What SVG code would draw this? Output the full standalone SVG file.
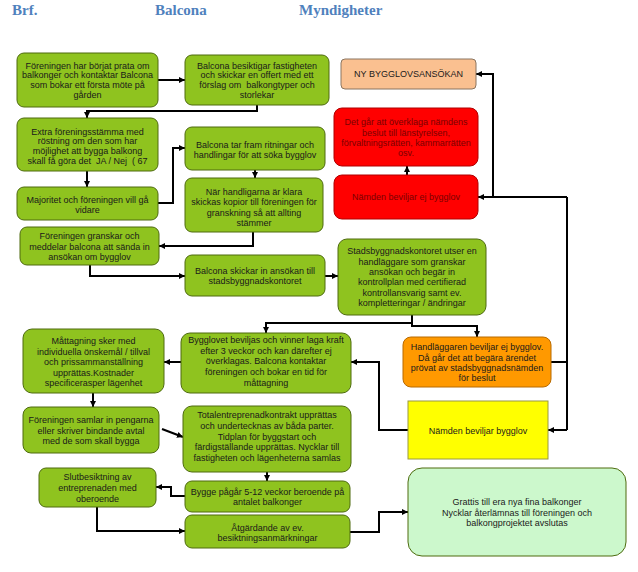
<svg xmlns="http://www.w3.org/2000/svg" width="638" height="572" viewBox="0 0 638 572">
<style>
.hd{font-family:"Liberation Serif",serif;font-weight:bold;font-size:15px;fill:#4F81BD}
.t{font-family:"Liberation Sans",Arial,sans-serif;font-size:9px;fill:#1a1a1a;text-anchor:middle;white-space:pre}
.tr{fill:#7a0000}
.g{fill:#8fc31f;stroke:#4e6b0f;stroke-width:1}
.red{fill:#ff0000;stroke:#b00000;stroke-width:1}
.org{fill:#ff9900;stroke:#b86a00;stroke-width:1}
.pch{fill:#fac090;stroke:#8a7560;stroke-width:1}
.yel{fill:#ffff00;stroke:#9a9a40;stroke-width:1}
.lg{fill:#ccf8cc;stroke:#4e6b0f;stroke-width:1}
.c{fill:none;stroke:#000;stroke-width:2}
.a{marker-end:url(#ah)}
</style>
<defs>
<marker id="ah" viewBox="0 0 10 10" refX="10" refY="5" markerWidth="3" markerHeight="3" orient="auto">
<path d="M0,0 L10,5 L0,10 z" fill="#000"/>
</marker>
</defs>
<rect width="638" height="572" fill="#fff"/>
<text class="hd" x="12" y="15">Brf.</text>
<text class="hd" x="155" y="15">Balcona</text>
<text class="hd" x="299" y="15">Myndigheter</text>

<g id="connectors">
<path class="c a" d="M158,80 H185"/>
<path class="c a" d="M257,105 V111 H87 V118"/>
<path class="c a" d="M87,171 V187"/>
<path class="c a" d="M158,203 H173 V148 H185"/>
<path class="c a" d="M255,170 V178"/>
<path class="c a" d="M253,232 V246 H159"/>
<path class="c a" d="M90,265 V276 H185"/>
<path class="c a" d="M325,276 H338"/>
<path class="c a" d="M412,323 H266 V333"/>
<path class="c a" d="M412,315 V326 H477 V337"/>
<path class="c" d="M551,362 H567"/>
<path class="c" d="M567,197 V430"/>
<path class="c a" d="M567,197 H478"/>
<path class="c a" d="M567,430 H548"/>
<path class="c a" d="M493,197 V74 H476"/>
<path class="c a" d="M407,175 V166"/>
<path class="c a" d="M408,430 H379 V362 H351"/>
<path class="c a" d="M181,362 H164"/>
<path class="c a" d="M93,393 V407"/>
<path class="c a" d="M162,429 L183,437"/>
<path class="c a" d="M267,472 V481"/>
<path class="c a" d="M185,496 H171 V487 H156"/>
<path class="c a" d="M97,507 V531 H185"/>
<path class="c a" d="M350,532 H379 V512 H408"/>
</g>

<g id="A"><rect class="g" x="17" y="53" width="141" height="54" rx="7"/>
<text class="t" x="87.5" y="68.5">Föreningen har börjat prata om<tspan x="87.5" dy="9.8">balkonger och kontaktar Balcona</tspan><tspan x="87.5" dy="9.8">som bokar ett första möte på</tspan><tspan x="87.5" dy="9.8">gården</tspan></text></g>

<g id="B"><rect class="g" x="185" y="55" width="144" height="50" rx="7"/>
<text class="t" x="257" y="68.5">Balcona besiktigar fastigheten<tspan x="257" dy="9.8">och skickar en offert med ett</tspan><tspan x="257" dy="9.8">förslag om  balkongtyper och</tspan><tspan x="257" dy="9.8">storlekar</tspan></text></g>

<g id="C"><rect class="g" x="17" y="118" width="141" height="53" rx="7"/>
<text class="t" x="87.5" y="134.5">Extra föreningsstämma med<tspan x="87.5" dy="9.8">röstning om den som har</tspan><tspan x="87.5" dy="9.8">möjlighet att bygga balkong</tspan><tspan x="87.5" dy="9.8">skall få göra det  JA / Nej  ( 67</tspan></text></g>

<g id="D"><rect class="g" x="185" y="127" width="140" height="43" rx="7"/>
<text class="t" x="255" y="148.3">Balcona tar fram ritningar och<tspan x="255" dy="9.8">handlingar för att söka bygglov</tspan></text></g>

<g id="E"><rect class="g" x="17" y="187" width="141" height="33" rx="7"/>
<text class="t" x="87.5" y="202.8">Majoritet och föreningen vill gå<tspan x="87.5" dy="9.8">vidare</tspan></text></g>

<g id="F"><rect class="g" x="185" y="178" width="138" height="54" rx="7"/>
<text class="t" x="254" y="194.5">När handligarna är klara<tspan x="254" dy="10.5">skickas kopior till föreningen för</tspan><tspan x="254" dy="10.5">granskning så att allting</tspan><tspan x="254" dy="10.5">stämmer</tspan></text></g>

<g id="G"><rect class="g" x="20" y="227" width="139" height="38" rx="7"/>
<text class="t" x="89.5" y="239.1">Föreningen granskar och<tspan x="89.5" dy="10.4">meddelar balcona att sända in</tspan><tspan x="89.5" dy="10.4">ansökan om bygglov</tspan></text></g>

<g id="H"><rect class="g" x="185" y="255" width="140" height="41" rx="7"/>
<text class="t" x="255" y="274.3">Balcona skickar in ansökan till<tspan x="255" dy="10">stadsbyggnadskontoret</tspan></text></g>

<g id="I"><rect class="g" x="338" y="239" width="148" height="76" rx="9"/>
<text class="t" x="412" y="254.2">Stadsbyggnadskontoret utser en<tspan x="412" dy="10.4">handläggare som granskar</tspan><tspan x="412" dy="10.4">ansökan och begär in</tspan><tspan x="412" dy="10.4">kontrollplan med certifierad</tspan><tspan x="412" dy="10.4">kontrollansvarig samt ev.</tspan><tspan x="412" dy="10.4">kompletteringar / ändringar</tspan></text></g>

<g id="J"><rect class="g" x="181" y="333" width="170" height="60" rx="9"/>
<text class="t" x="266" y="343.2">Bygglovet beviljas och vinner laga kraft<tspan x="266" dy="10.6">efter 3 veckor och kan därefter ej</tspan><tspan x="266" dy="10.6">överklagas. Balcona kontaktar</tspan><tspan x="266" dy="10.6">föreningen och bokar en tid för</tspan><tspan x="266" dy="10.6">måttagning</tspan></text></g>

<g id="K"><rect class="org" x="403" y="337" width="148" height="50" rx="8"/>
<text class="t" x="477" y="350.2">Handläggaren beviljar ej bygglov.<tspan x="477" dy="10.3">Då går det att begära ärendet</tspan><tspan x="477" dy="10.3">prövat av stadsbyggnadsnämden</tspan><tspan x="477" dy="10.3">för beslut</tspan></text></g>

<g id="L"><rect class="pch" x="341" y="59" width="135" height="30" rx="4"/>
<text class="t" x="408.5" y="77.2">NY BYGGLOVSANSÖKAN</text></g>

<g id="M"><rect class="red" x="334" y="108" width="144" height="58" rx="8"/>
<text class="t tr" x="406" y="125.3">Det går att överklaga nämdens<tspan x="406" dy="10.3">beslut till länstyrelsen,</tspan><tspan x="406" dy="10.3">förvaltningsrätten, kammarrätten</tspan><tspan x="406" dy="10.3">osv.</tspan></text></g>

<g id="N"><rect class="red" x="334" y="175" width="144" height="44" rx="8"/>
<text class="t tr" x="406" y="200.2">Nämden beviljar ej bygglov</text></g>

<g id="O"><rect class="yel" x="408" y="401" width="140" height="58"/>
<text class="t" x="478" y="434">Nämden beviljar bygglov</text></g>

<g id="P"><rect class="lg" x="408" y="468" width="218" height="88" rx="14"/>
<text class="t" x="517" y="505.2">Grattis till era nya fina balkonger<tspan x="517" dy="10.5">Nycklar återlämnas till föreningen och</tspan><tspan x="517" dy="10.5">balkongprojektet avslutas</tspan></text></g>

<g id="Q"><rect class="g" x="23" y="329" width="141" height="64" rx="9"/>
<text class="t" x="93.5" y="344.2">Måttagning sker med<tspan x="93.5" dy="10.5">individuella önskemål / tillval</tspan><tspan x="93.5" dy="10.5">och prissammanställning</tspan><tspan x="93.5" dy="10.5">upprättas.Kostnader</tspan><tspan x="93.5" dy="10.5">specificerasper lägenhet</tspan></text></g>

<g id="R"><rect class="g" x="23" y="407" width="136" height="46" rx="8"/>
<text class="t" x="91" y="423.2">Föreningen samlar in pengarna<tspan x="91" dy="10.4">eller skriver bindande avtal</tspan><tspan x="91" dy="10.4">med de som skall bygga</tspan></text></g>

<g id="S"><rect class="g" x="183" y="406" width="168" height="66" rx="9"/>
<text class="t" x="267" y="418.2">Totalentreprenadkontrakt upprättas<tspan x="267" dy="10.7">och undertecknas av båda parter.</tspan><tspan x="267" dy="10.7">Tidplan för byggstart och</tspan><tspan x="267" dy="10.7">färdigställande upprättas. Nycklar till</tspan><tspan x="267" dy="10.7">fastigheten och lägenheterna samlas</tspan></text></g>

<g id="T"><rect class="g" x="39" y="468" width="117" height="39" rx="7"/>
<text class="t" x="97.5" y="480.2">Slutbesiktning av<tspan x="97.5" dy="10.8">entreprenaden med</tspan><tspan x="97.5" dy="10.8">oberoende</tspan></text></g>

<g id="U"><rect class="g" x="185" y="481" width="165" height="31" rx="7"/>
<text class="t" x="267.5" y="495.2">Bygge pågår 5-12 veckor beroende på<tspan x="267.5" dy="10">antalet balkonger</tspan></text></g>

<g id="V"><rect class="g" x="185" y="515" width="165" height="33" rx="7"/>
<text class="t" x="267.5" y="531.2">Åtgärdande av ev.<tspan x="267.5" dy="10">besiktningsanmärkningar</tspan></text></g>
</svg>
